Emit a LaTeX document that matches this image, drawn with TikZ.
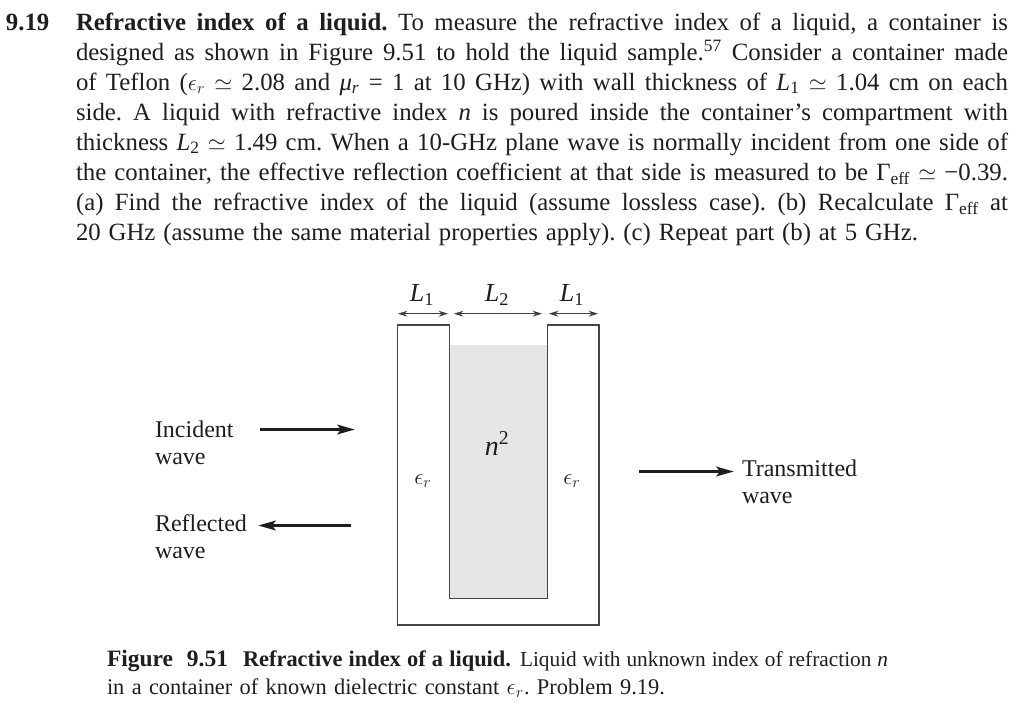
\documentclass[tikz,border=0pt]{standalone}
\usepackage{fontspec}
\setmainfont{Liberation Serif}
\usetikzlibrary{arrows.meta}
\frenchspacing
\definecolor{ink}{HTML}{1E1E1E}
\definecolor{wall}{HTML}{454545}
\definecolor{liquid}{HTML}{E5E5E5}
\newcommand{\vi}[1]{\textit{#1}}
\newcommand{\eps}{$\epsilon_{r}$}
\newcommand{\sime}{$\simeq$}
\newcommand{\lone}{\vi{L}\textsubscript{1}}
\newcommand{\ltwo}{\vi{L}\textsubscript{2}}
\newcommand{\geff}{Γ\textsubscript{eff}}
\newlength{\pxu}\setlength{\pxu}{0.75pt}
\tikzset{
  x=0.75pt,y=-0.75pt,
  body/.style={anchor=base west,inner sep=0pt,outer sep=0pt,font=\fontsize{18.6pt}{20pt}\selectfont,text=ink},
  capt/.style={anchor=base west,inner sep=0pt,outer sep=0pt,font=\fontsize{16.8pt}{18pt}\selectfont,text=ink},
  captb/.style={capt,font=\fontsize{17.6pt}{18pt}\selectfont},
  captn/.style={capt,font=\fontsize{16pt}{18pt}\selectfont},
  lab/.style={anchor=base west,inner sep=0pt,outer sep=0pt,font=\fontsize{18pt}{20pt}\selectfont,text=ink},
  sym/.style={anchor=base,inner sep=0pt,outer sep=0pt,font=\fontsize{19.5pt}{20pt}\selectfont,text=ink},
  epsym/.style={sym,font=\fontsize{17.5pt}{20pt}\selectfont},
  wallline/.style={draw=wall,line width=1pt},
  dim/.style={draw=ink!85!white,line width=0.9pt,{Stealth[length=7pt,width=4.5pt]}-{Stealth[length=7pt,width=4.5pt]}},
  wavearrow/.style={draw=ink,line width=2.7pt,-{Stealth[length=13pt,width=7pt,inset=2.5pt]}},
}
\begin{document}
\begin{tikzpicture}
\path[use as bounding box,fill=white] (0,0) rectangle (1024,707);
% problem text
\node[body] (num) at (6,30) {\bfseries 9.19};
\node[body] (t1) at (76,30) {\makebox[932\pxu][s]{\textbf{Refractive index of a liquid.} To measure the refractive index of a liquid, a container is}};
\node[body] (t2) at (76,60) {\makebox[932\pxu][s]{designed as shown in Figure 9.51 to hold the liquid sample.\textsuperscript{57} Consider a container made}};
\node[body] (t3) at (76,90) {\makebox[932\pxu][s]{of Teflon (\eps{} \sime{} 2.08 and \vi{μ}\textsubscript{\textit{r}} = 1 at 10 GHz) with wall thickness of \lone{} \sime{} 1.04 cm on each}};
\node[body] (t4) at (76,120) {\makebox[932\pxu][s]{side. A liquid with refractive index \vi{n} is poured inside the container’s compartment with}};
\node[body] (t5) at (76,150) {\makebox[932\pxu][s]{thickness \ltwo{} \sime{} 1.49 cm. When a 10-GHz plane wave is normally incident from one side of}};
\node[body] (t6) at (76,180) {\makebox[932\pxu][s]{the container, the effective reflection coefficient at that side is measured to be \geff{} \sime{} −0.39.}};
\node[body] (t7) at (76,210) {\makebox[932\pxu][s]{(a) Find the refractive index of the liquid (assume lossless case). (b) Recalculate \geff{} at}};
\node[body] (t8) at (76,240) {\makebox[842\pxu][s]{20 GHz (assume the same material properties apply). (c) Repeat part (b) at 5 GHz.}};
% container
\fill[liquid] (449.5,345) rectangle (547.5,598.5);
\draw[wallline] (449.5,325) -- (449.5,598.5) -- (547.5,598.5) -- (547.5,325) -- (599,325) -- (599,625) -- (397.7,625) -- (397.7,325) -- cycle;
% dimension arrows
\coordinate (d1a) at (398,313.7); \coordinate (d1b) at (448,313.7);
\coordinate (d2a) at (454,313.7); \coordinate (d2b) at (542,313.7);
\coordinate (d3a) at (549,313.7); \coordinate (d3b) at (598,313.7);
\draw[dim] (d1a) -- (d1b);
\draw[dim] (d2a) -- (d2b);
\draw[dim] (d3a) -- (d3b);
\node[sym] (l1a) at (422,301) {\lone};
\node[sym] (l2) at (497,301) {\ltwo};
\node[sym] (l1b) at (572,301) {\lone};
\node[sym,font=\fontsize{21pt}{22pt}\selectfont] (nsq) at (497,455) {\vi{n}\textsuperscript{2}};
\node[epsym] (er1) at (423,484) {\eps};
\node[epsym] (er2) at (572,484) {\eps};
% waves
\node[lab] (inc) at (155,437) {Incident};
\node[lab] (incw) at (155,464) {wave};
\node[lab] (ref) at (155,531) {Reflected};
\node[lab] (refw) at (155,558) {wave};
\node[lab] (tra) at (742,476) {Transmitted};
\node[lab] (traw) at (742,503) {wave};
\coordinate (ia) at (260,429.5); \coordinate (ib) at (355,429.5);
\coordinate (ra) at (351,525.5); \coordinate (rb) at (258,525.5);
\coordinate (ta) at (639,471.5); \coordinate (tb) at (734,471.5);
\draw[wavearrow] (ia) -- (ib);
\draw[wavearrow] (ra) -- (rb);
\draw[wavearrow] (ta) -- (tb);
% caption
\node[captb] (c1) at (107,666) {\makebox[121\pxu][s]{\textbf{Figure 9.51}}};
\node[capt] (c1b) at (243,666) {\makebox[268\pxu][s]{\textbf{Refractive index of a liquid.}}};
\node[captn] (c1c) at (520,666) {\makebox[368\pxu][s]{Liquid with unknown index of refraction \vi{n}}};
\node[capt] (c2) at (107,694) {\makebox[558\pxu][s]{in a container of known dielectric constant \eps. Problem 9.19.}};
\end{tikzpicture}
\end{document}
